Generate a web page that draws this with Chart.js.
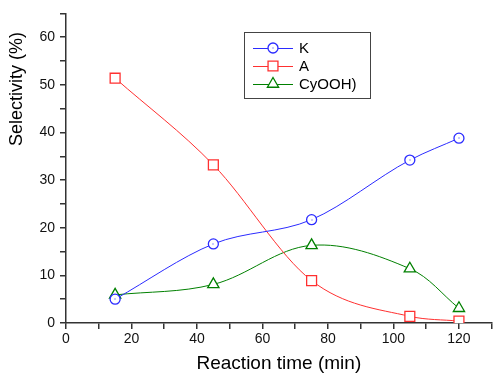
<!DOCTYPE html>
<html>
<head>
<meta charset="utf-8">
<script src="https://cdn.jsdelivr.net/npm/chart.js@4"></script>
<style>
  html, body { margin: 0; padding: 0; background: #fff; }
  #wrap { width: 500px; height: 385px; }
</style>
</head>
<body>
<div id="wrap"><canvas id="chart"></canvas></div>
<script>
// valeurs
var times = [15, 45, 75, 105, 120];
var selK = [5.0, 16.6, 21.7, 34.2, 38.8];
var selA = [51.4, 33.2, 8.9, 1.4, 0.4];
var selCyOOH = [5.9, 8.1, 16.3, 11.4, 3.1];

var xTitle = 'Reaction time (min)';
var yTitle = 'Selectivity (%)';
var font = 'Arial, "Liberation Sans", sans-serif';

function pts(values) {
    return times.map(function (t, i) { return { x: t, y: values[i] }; });
}

// légende dessinée dans la zone du graphique, comme sur l'original
var legendInside = {
    id: 'legendInside',
    afterDatasetsDraw: function (chart) {
        // petit point au centre des cercles (style Origin)
        var ctx = chart.ctx;
        ctx.save();
        ctx.fillStyle = chart.data.datasets[0].pointBorderColor;
        chart.getDatasetMeta(0).data.forEach(function (p) {
            ctx.fillRect(Math.round(p.x) - 0.5, Math.round(p.y) - 0.5, 1, 1);
        });
        ctx.restore();
    },
    afterDraw: function (chart) {
        var ctx = chart.ctx;
        ctx.save();
        ctx.strokeStyle = '#444';
        ctx.lineWidth = 1;
        ctx.strokeRect(244.5, 32.5, 126, 66);
        var rows = [48, 66, 84];
        chart.data.datasets.forEach(function (ds, i) {
            var y = rows[i];
            ctx.strokeStyle = ds.borderColor;
            ctx.lineWidth = 1;
            ctx.beginPath();
            ctx.moveTo(253, y + 0.5);
            ctx.lineTo(293, y + 0.5);
            ctx.stroke();
            ctx.fillStyle = '#fff';
            ctx.strokeStyle = ds.pointBorderColor;
            ctx.lineWidth = 1.3;
            Chart.helpers.drawPoint(ctx, {
                pointStyle: ds.pointStyle,
                radius: ds.pointRadius,
                borderWidth: 1.3
            }, 273, y);
            if (i === 0) {
                ctx.fillStyle = ds.pointBorderColor;
                ctx.fillRect(272.5, y - 0.5, 1, 1);
            }
            ctx.fillStyle = '#000';
            ctx.font = '15px ' + font;
            ctx.textBaseline = 'middle';
            ctx.textAlign = 'left';
            ctx.fillText(ds.label, 299, y + 1);
        });

        // titre de l'axe Y, placé haut comme sur la figure
        ctx.translate(17, 89);
        ctx.rotate(-Math.PI / 2);
        ctx.fillStyle = '#000';
        ctx.font = '18px ' + font;
        ctx.textAlign = 'center';
        ctx.textBaseline = 'middle';
        ctx.fillText(yTitle, 0, 0);

        ctx.restore();
    }
};

new Chart(document.getElementById('chart'), {
    type: 'line',
    data: {
        datasets: [{
            label: 'K',
            data: pts(selK),
            borderColor: '#2b2bff',
            pointBorderColor: '#2b2bff',
            pointBackgroundColor: '#fff',
            pointStyle: 'circle',
            pointRadius: 5,
            pointBorderWidth: 1.3,
            borderWidth: 1,
            cubicInterpolationMode: 'monotone'
        }, {
            label: 'A',
            data: pts(selA),
            borderColor: '#ff3030',
            pointBorderColor: '#ff3030',
            pointBackgroundColor: '#fff',
            pointStyle: 'rect',
            pointRadius: 7,
            pointBorderWidth: 1.3,
            borderWidth: 1,
            cubicInterpolationMode: 'monotone'
        }, {
            label: 'CyOOH)',
            data: pts(selCyOOH),
            borderColor: '#008000',
            pointBorderColor: '#008000',
            pointBackgroundColor: '#fff',
            pointStyle: 'triangle',
            pointRadius: 6.5,
            pointBorderWidth: 1.3,
            borderWidth: 1,
            tension: 0.35
        }]
    },
    options: {
        responsive: true,
        maintainAspectRatio: false,
        animation: false,
        layout: { padding: { left: 0, right: 7, top: 11, bottom: 0 } },
        plugins: {
            legend: { display: false },
            tooltip: { enabled: false }
        },
        scales: {
            x: {
                type: 'linear',
                min: 0,
                max: 130,
                afterFit: function (scale) { scale.height = 62; },
                ticks: {
                    stepSize: 10,
                    autoSkip: false,
                    maxRotation: 0,
                    padding: 2,
                    color: '#111',
                    font: { family: font, size: 14 },
                    callback: function (v) { return v % 20 === 0 ? v : ''; }
                },
                grid: { drawOnChartArea: false, drawTicks: true, tickLength: 6, color: '#333', lineWidth: 1.5 },
                border: { color: '#333', width: 1.5 },
                title: {
                    display: true,
                    text: xTitle,
                    color: '#000',
                    font: { family: font, size: 19 },
                    padding: { top: 0, bottom: 10 }
                }
            },
            y: {
                min: 0,
                max: 65,
                afterFit: function (scale) { scale.width = 66; },
                ticks: {
                    stepSize: 5,
                    autoSkip: false,
                    padding: 5,
                    color: '#111',
                    font: { family: font, size: 14 },
                    callback: function (v) { return v % 10 === 0 ? v : ''; }
                },
                grid: { drawOnChartArea: false, drawTicks: true, tickLength: 6, color: '#333', lineWidth: 1.5 },
                border: { color: '#333', width: 1.5 }
            }
        }
    },
    plugins: [legendInside]
});
</script>
</body>
</html>
